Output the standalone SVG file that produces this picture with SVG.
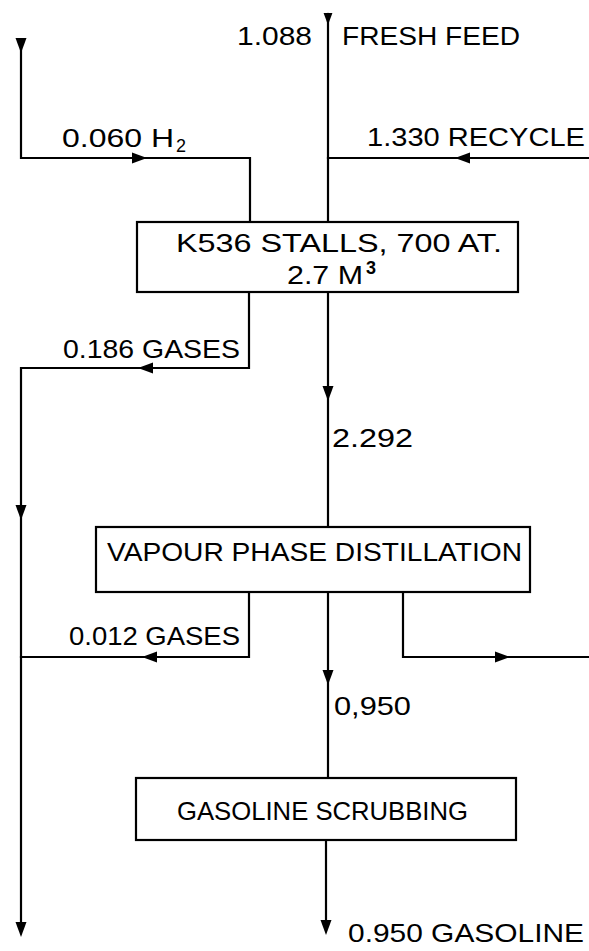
<svg xmlns="http://www.w3.org/2000/svg" width="589" height="951" viewBox="0 0 589 951">
<style>
.ln{fill:none;stroke:#000;stroke-width:2.2;stroke-linecap:square}
.bx{fill:#fff;stroke:#000;stroke-width:2.2}
.t{font-family:"Liberation Sans",Arial,sans-serif;font-size:26px;fill:#000}
.sub{font-family:"Liberation Sans",Arial,sans-serif;font-size:18px;fill:#000}
</style>
<defs>
<path id="arr" d="M0,0 L-15,-5.5 L-15,5.5 Z" fill="#000"/>
</defs>
<g id="connectors">
<path class="ln" d="M328,14 V222"/>
<path class="ln" d="M21,40 V158 H250 V222"/>
<path class="ln" d="M589,158 H328"/>
<path class="ln" d="M249,292 V368 H21 V930"/>
<path class="ln" d="M328,292 V527"/>
<path class="ln" d="M249,592 V657 H21"/>
<path class="ln" d="M328,592 V778"/>
<path class="ln" d="M403,592 V657 H589"/>
<path class="ln" d="M326,840 V930"/>
<use href="#arr" transform="translate(328,25) rotate(90) scale(0.8)"/>
<use href="#arr" transform="translate(21,53) rotate(90)"/>
<use href="#arr" transform="translate(147,158)"/>
<use href="#arr" transform="translate(455,158) rotate(180)"/>
<use href="#arr" transform="translate(138,368) rotate(180)"/>
<use href="#arr" transform="translate(328,401) rotate(90)"/>
<use href="#arr" transform="translate(21,520) rotate(90)"/>
<use href="#arr" transform="translate(142,657) rotate(180)"/>
<use href="#arr" transform="translate(328,685) rotate(90)"/>
<use href="#arr" transform="translate(510,657)"/>
<use href="#arr" transform="translate(21,937) rotate(90)"/>
<use href="#arr" transform="translate(326,935) rotate(90)"/>
</g>
<g id="labels">
<text class="t" x="237" y="45" textLength="75" lengthAdjust="spacingAndGlyphs">1.088</text>
<text class="t" x="342" y="45" textLength="178" lengthAdjust="spacingAndGlyphs">FRESH FEED</text>
<text class="t" x="62" y="147" textLength="112" lengthAdjust="spacingAndGlyphs">0.060 H</text>
<text class="sub" x="176" y="152">2</text>
<text class="t" x="367" y="146" textLength="218" lengthAdjust="spacingAndGlyphs">1.330 RECYCLE</text>
<text class="t" x="63" y="358" textLength="177" lengthAdjust="spacingAndGlyphs">0.186 GASES</text>
<text class="t" x="332" y="447" textLength="81" lengthAdjust="spacingAndGlyphs">2.292</text>
<text class="t" x="69" y="645" textLength="171" lengthAdjust="spacingAndGlyphs">0.012 GASES</text>
<text class="t" x="334" y="715" textLength="77" lengthAdjust="spacingAndGlyphs">0,950</text>
<text class="t" x="348" y="942" textLength="236" lengthAdjust="spacingAndGlyphs">0.950 GASOLINE</text>
</g>
<g id="k536">
<rect class="bx" x="137" y="222" width="381" height="70"/>
<text class="t" x="176" y="252" textLength="326" lengthAdjust="spacingAndGlyphs">K536 STALLS, 700 AT.</text>
<text class="t" x="287" y="284" textLength="76" lengthAdjust="spacingAndGlyphs">2.7 M</text>
<text class="sub" x="366" y="274" font-weight="bold">3</text>
</g>
<g id="vapour">
<rect class="bx" x="96" y="527" width="434" height="65"/>
<text class="t" x="107" y="561" textLength="415" lengthAdjust="spacingAndGlyphs">VAPOUR PHASE DISTILLATION</text>
</g>
<g id="scrubbing">
<rect class="bx" x="136" y="778" width="380" height="62"/>
<text class="t" x="177" y="820" textLength="291" lengthAdjust="spacingAndGlyphs">GASOLINE SCRUBBING</text>
</g>
</svg>
